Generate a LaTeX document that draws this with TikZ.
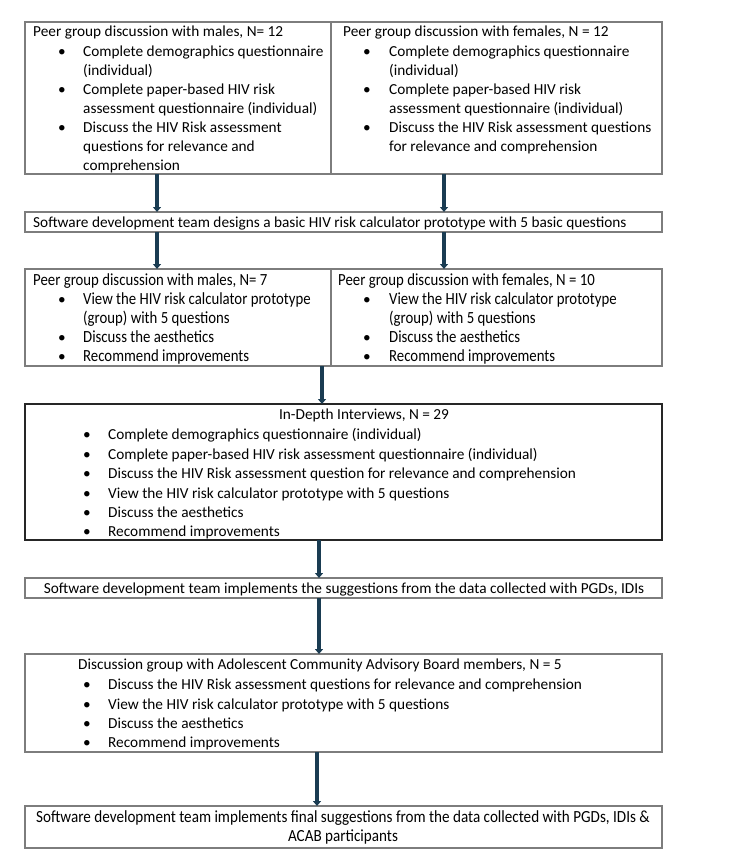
\documentclass[tikz,border=0pt]{standalone}
\usepackage{fontspec}
\setmainfont{Carlito}
\newfontfamily\condfont[FakeStretch=0.87]{Carlito}
\newfontfamily\condfontb[FakeStretch=0.89]{Carlito}
\usetikzlibrary{arrows.meta}
\definecolor{arrowc}{RGB}{26,60,82}
\definecolor{boxc}{RGB}{125,125,125}
\begin{document}
\begin{tikzpicture}[x=1pt,y=-1pt,
  box/.style={draw=boxc, line width=1.1pt, inner sep=0pt, outer sep=0pt, anchor=north west},
  darkbox/.style={box, draw=black!85},
  txt/.style={anchor=base west, inner sep=0pt, font=\fontsize{15.3}{19}\selectfont},
  ctxt/.style={anchor=base, inner sep=0pt, font=\fontsize{15.3}{19}\selectfont},
  ctxtc/.style={anchor=base, inner sep=0pt, font=\condfontb\fontsize{17}{19}\selectfont},
  txtc/.style={anchor=base west, inner sep=0pt, font=\condfont\fontsize{17}{19}\selectfont},
  bul/.style={anchor=base, inner sep=0pt, font=\fontsize{15.3}{19}\selectfont},
  arr/.style={draw=arrowc, line width=3.2pt, -{Triangle[width=8pt,length=5pt]}}
]
\useasboundingbox (0,0) rectangle (734,851);
% ---- boxes
\node[box, minimum width=306pt, minimum height=152pt] (tl) at (25,22) {};
\node[box, minimum width=331pt, minimum height=152pt] (tr) at (331,22) {};
\node[box, minimum width=637pt, minimum height=20pt] (sw1) at (25,212) {};
\node[box, minimum width=306pt, minimum height=97pt] (ml) at (25,269) {};
\node[box, minimum width=331pt, minimum height=97pt] (mr) at (331,269) {};
\node[darkbox, minimum width=637pt, minimum height=136pt] (idi) at (25,404) {};
\node[box, minimum width=637pt, minimum height=20pt] (sw2) at (25,578) {};
\node[box, minimum width=637pt, minimum height=98pt] (acab) at (25,654) {};
\node[box, minimum width=637pt, minimum height=42pt] (fin) at (25,806) {};
% ---- top left
\node[txt] (tl0) at (33,37) {Peer group discussion with males, N= 12};
\node[bul] (tlb1) at (62,56.1) {•};
\node[txt] (tl1) at (83,56.1) {Complete demographics questionnaire};
\node[txt] (tl2) at (83,75.2) {(individual)};
\node[bul] (tlb2) at (62,94.3) {•};
\node[txt] (tl3) at (83,94.3) {Complete paper-based HIV risk};
\node[txt] (tl4) at (83,113.4) {assessment questionnaire (individual)};
\node[bul] (tlb3) at (62,132.5) {•};
\node[txt] (tl5) at (83,132.5) {Discuss the HIV Risk assessment};
\node[txt] (tl6) at (83,151.6) {questions for relevance and};
\node[txt] (tl7) at (83,170.7) {comprehension};
% ---- top right
\node[txt] (tr0) at (343,37) {Peer group discussion with females, N = 12};
\node[bul] (trb1) at (367,56.1) {•};
\node[txt] (tr1) at (389,56.1) {Complete demographics questionnaire};
\node[txt] (tr2) at (389,75.2) {(individual)};
\node[bul] (trb2) at (367,94.3) {•};
\node[txt] (tr3) at (389,94.3) {Complete paper-based HIV risk};
\node[txt] (tr4) at (389,113.4) {assessment questionnaire (individual)};
\node[bul] (trb3) at (367,132.5) {•};
\node[txt] (tr5) at (389,132.5) {Discuss the HIV Risk assessment questions};
\node[txt] (tr6) at (389,151.6) {for relevance and comprehension};
% ---- software 1
\node[txt] (sw1t) at (33,227) {Software development team designs a basic HIV risk calculator prototype with 5 basic questions};
% ---- middle left
\node[txtc] (ml0) at (33,285.5) {Peer group discussion with males, N= 7};
\node[bul] (mlb1) at (62,304.5) {•};
\node[txtc] (ml1) at (83,304.5) {View the HIV risk calculator prototype};
\node[txtc] (ml2) at (83,323.5) {(group) with 5 questions};
\node[bul] (mlb2) at (62,342.5) {•};
\node[txtc] (ml3) at (83,342.5) {Discuss the aesthetics};
\node[bul] (mlb3) at (62,361.5) {•};
\node[txtc] (ml4) at (83,361.5) {Recommend improvements};
% ---- middle right
\node[txtc] (mr0) at (338,285.5) {Peer group discussion with females, N = 10};
\node[bul] (mrb1) at (367,304.5) {•};
\node[txtc] (mr1) at (389,304.5) {View the HIV risk calculator prototype};
\node[txtc] (mr2) at (389,323.5) {(group) with 5 questions};
\node[bul] (mrb2) at (367,342.5) {•};
\node[txtc] (mr3) at (389,342.5) {Discuss the aesthetics};
\node[bul] (mrb3) at (367,361.5) {•};
\node[txtc] (mr4) at (389,361.5) {Recommend improvements};
% ---- IDI
\node[ctxt] (idi0) at (364,419.5) {In-Depth Interviews, N = 29};
\node[bul] (idib1) at (87,439) {•};
\node[txt] (idi1) at (108,439) {Complete demographics questionnaire (individual)};
\node[bul] (idib2) at (87,459) {•};
\node[txt] (idi2) at (108,459) {Complete paper-based HIV risk assessment questionnaire (individual)};
\node[bul] (idib3) at (87,478) {•};
\node[txt] (idi3) at (108,478) {Discuss the HIV Risk assessment question for relevance and comprehension};
\node[bul] (idib4) at (87,498) {•};
\node[txt] (idi4) at (108,498) {View the HIV risk calculator prototype with 5 questions};
\node[bul] (idib5) at (87,517) {•};
\node[txt] (idi5) at (108,517) {Discuss the aesthetics};
\node[bul] (idib6) at (87,536) {•};
\node[txt] (idi6) at (108,536) {Recommend improvements};
% ---- software 2
\node[ctxt] (sw2t) at (344,593) {Software development team implements the suggestions from the data collected with PGDs, IDIs};
% ---- ACAB
\node[txt] (ac0) at (78,669) {Discussion group with Adolescent Community Advisory Board members, N = 5};
\node[bul] (acb1) at (87,689) {•};
\node[txt] (ac1) at (108,689) {Discuss the HIV Risk assessment questions for relevance and comprehension};
\node[bul] (acb2) at (87,709) {•};
\node[txt] (ac2) at (108,709) {View the HIV risk calculator prototype with 5 questions};
\node[bul] (acb3) at (87,728) {•};
\node[txt] (ac3) at (108,728) {Discuss the aesthetics};
\node[bul] (acb4) at (87,747) {•};
\node[txt] (ac4) at (108,747) {Recommend improvements};
% ---- final
\node[ctxtc] (fin1) at (343,822) {Software development team implements final suggestions from the data collected with PGDs, IDIs \&};
\node[ctxtc] (fin2) at (343,841) {ACAB participants};
% ---- arrow columns
\coordinate (xa) at (157,0);
\coordinate (xb) at (444,0);
\coordinate (xc) at (322,0);
\coordinate (xd) at (319,0);
\coordinate (xe) at (317,0);
\draw[arr] (tl.south -| xa) -- (sw1.north -| xa);
\draw[arr] (tr.south -| xb) -- (sw1.north -| xb);
\draw[arr] (sw1.south -| xa) -- (ml.north -| xa);
\draw[arr] (sw1.south -| xb) -- (mr.north -| xb);
\draw[arr] (ml.south -| xc) -- (idi.north -| xc);
\draw[arr] (idi.south -| xd) -- (sw2.north -| xd);
\draw[arr] (sw2.south -| xd) -- (acab.north -| xd);
\draw[arr] (acab.south -| xe) -- (fin.north -| xe);
\end{tikzpicture}
\end{document}
